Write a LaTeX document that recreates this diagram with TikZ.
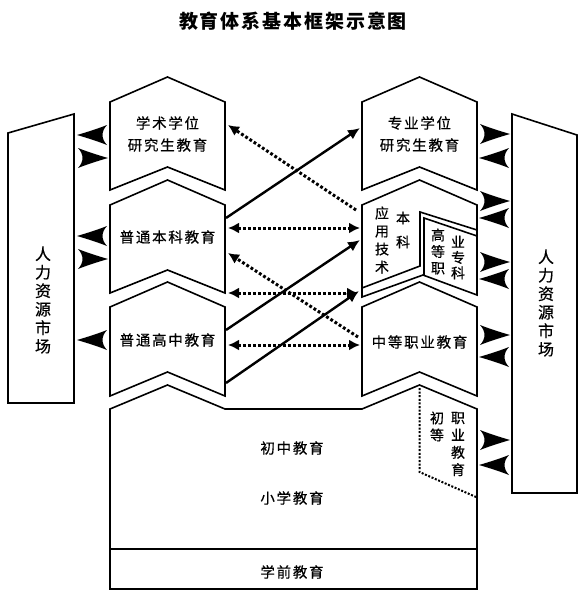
\documentclass[tikz,border=0pt]{standalone}
\usepackage{fontspec}
\newfontfamily\cjk[LetterSpace=12,FakeBold=0.5]{Noto Sans CJK SC}
\newfontfamily\cjkv[FakeBold=0.5]{Noto Sans CJK SC}
\newfontfamily\cjkt[LetterSpace=10]{Noto Sans CJK SC}
\usetikzlibrary{arrows.meta}
\tikzset{
  box/.style={line width=1.6pt, line join=miter, fill=white},
  txt/.style={font=\cjk\fontsize{14.5}{17}\selectfont, inner sep=0pt},
  vtxt/.style={font=\cjkv\fontsize{14}{#1}\selectfont, align=center, inner sep=0pt},
  mtxt/.style={font=\cjkv\fontsize{16}{18.5}\selectfont, align=center, inner sep=0pt},
  solidarrow/.style={line width=2.4pt, -{Latex[length=12pt,width=11pt]}},
  dotarrow/.style={line width=3pt, dash pattern=on 2.8pt off 2.2pt, -{Latex[length=11pt,width=11pt]}},
  dotboth/.style={line width=3pt, dash pattern=on 2.8pt off 2.2pt, {Latex[length=11pt,width=11pt]}-{Latex[length=11pt,width=11pt]}},
  thindot/.style={line width=2pt, dash pattern=on 2pt off 1.6pt},
  bighead/.pic={\fill (0,0) .. controls (-12,-3.5) and (-22,-6.8) .. (-30,-10)
      .. controls (-24,-3.5) and (-24,3.5) .. (-30,10)
      .. controls (-22,6.8) and (-12,3.5) .. (0,0) -- cycle;}
}
\begin{document}
\begin{tikzpicture}[x=1pt,y=-1pt]
\useasboundingbox (0,0) rectangle (586,597);
\fill[white] (0,0) rectangle (586,597);

% title
\node[font=\cjkt\bfseries\fontsize{19}{22}\selectfont, inner sep=0pt] (title) at (293,21) {教育体系基本框架示意图};

% human resource markets
\draw[box] (8,133) -- (74,114) -- (74,403) -- (8,403) -- cycle;
\draw[box] (512,114) -- (577,135) -- (577,493) -- (512,493) -- cycle;
\node[mtxt] (mL) at (43,300) {人\\力\\资\\源\\市\\场};
\node[mtxt] (mR) at (546,303) {人\\力\\资\\源\\市\\场};

% bottom block
\draw[box] (110,409) -- (167.5,385) -- (225,409) -- (362,409) -- (419.5,385) -- (477,409) -- (477,589) -- (110,589) -- cycle;
\draw[line width=1.6pt] (110,549) -- (477,549);
\draw[thindot] (419.5,388) -- (419.5,472) -- (476,497);

% left column
\draw[box] (110,102) -- (167.5,77) -- (225,102) -- (225,190) -- (167.5,167) -- (110,190) -- cycle;
\draw[box] (110,205) -- (167.5,180) -- (225,205) -- (225,293) -- (167.5,270) -- (110,293) -- cycle;
\draw[box] (110,307) -- (167.5,282) -- (225,307) -- (225,396) -- (167.5,372) -- (110,396) -- cycle;

% right column
\draw[box] (362,102) -- (419.5,77) -- (477,102) -- (477,190) -- (419.5,167) -- (362,190) -- cycle;
\draw[box] (362,205) -- (419.5,180) -- (477,205) -- (477,295) -- (423,275) -- (362,297) -- cycle;
\draw[line width=1.6pt, line join=miter] (362,288) -- (420,266) -- (420,212) -- (477,230);
\draw[line width=1.6pt, line join=miter] (477,236) -- (424,218) -- (424,275);
\draw[box] (362,307) -- (419.5,282) -- (477,307) -- (477,396) -- (419.5,372) -- (362,396) -- cycle;

% texts
\node[txt] (t1a) at (167.5,123) {学术学位};
\node[txt] (t1b) at (167.5,145) {研究生教育};
\node[txt] (t2) at (167.5,237) {普通本科教育};
\node[txt] (t3) at (167.5,340) {普通高中教育};
\node[txt] (r1a) at (419.5,123) {专业学位};
\node[txt] (r1b) at (419.5,145) {研究生教育};
\node[vtxt=18] (r2a) at (382,240) {应\\用\\技\\术};
\node[vtxt=24] (r2b) at (403,230) {本\\科};
\node[vtxt=16.5] (r2c) at (438,251.5) {高\\等\\职};
\node[vtxt=15.5] (r2d) at (458,257.5) {业\\专\\科};
\node[txt] (r3) at (419.5,342) {中等职业教育};
\node[vtxt=17] (p1) at (437,426.5) {初\\等};
\node[vtxt=17.3] (p2) at (458,444) {职\\业\\教\\育};
\node[txt] (b1) at (292,448) {初中教育};
\node[txt] (b2) at (292,498) {小学教育};
\node[txt] (b3) at (292,572) {学前教育};

% big arrowheads, left
\pic[xscale=-1] at (77,135) {bighead};
\pic at (108,158) {bighead};
\pic[xscale=-1] at (77,236) {bighead};
\pic at (108,259) {bighead};
\pic[xscale=-1] at (77,340) {bighead};
% big arrowheads, right
\pic at (510,134) {bighead};
\pic[xscale=-1] at (479,158) {bighead};
\pic at (510,201) {bighead};
\pic[xscale=-1] at (479,218) {bighead};
\pic at (510,262) {bighead};
\pic[xscale=-1] at (479,279) {bighead};
\pic at (510,335) {bighead};
\pic[xscale=-1] at (479,357) {bighead};
\pic at (510,440) {bighead};
\pic[xscale=-1] at (479,465) {bighead};

% connector end points
\coordinate (s1a) at (226,218);
\coordinate (s1b) at (360,128);
\coordinate (s2a) at (226,330);
\coordinate (s2b) at (360,240);
\coordinate (s3a) at (226,383);
\coordinate (s3b) at (359,291);
\coordinate (d1a) at (356,210);
\coordinate (d1b) at (228,125);
\coordinate (d2a) at (228,228);
\coordinate (d2b) at (360,228);
\coordinate (d3a) at (358,337);
\coordinate (d3b) at (228,253);
\coordinate (d4a) at (228,293);
\coordinate (d4b) at (358,293);
\coordinate (d5a) at (228,345);
\coordinate (d5b) at (360,345);

\draw[dotarrow] (d1a) -- (d1b);
\draw[dotboth] (d2a) -- (d2b);
\draw[dotarrow] (d3a) -- (d3b);
\draw[dotboth] (d4a) -- (d4b);
\draw[dotboth] (d5a) -- (d5b);
\draw[solidarrow] (s1a) -- (s1b);
\draw[solidarrow] (s2a) -- (s2b);
\draw[solidarrow] (s3a) -- (s3b);
\end{tikzpicture}
\end{document}
